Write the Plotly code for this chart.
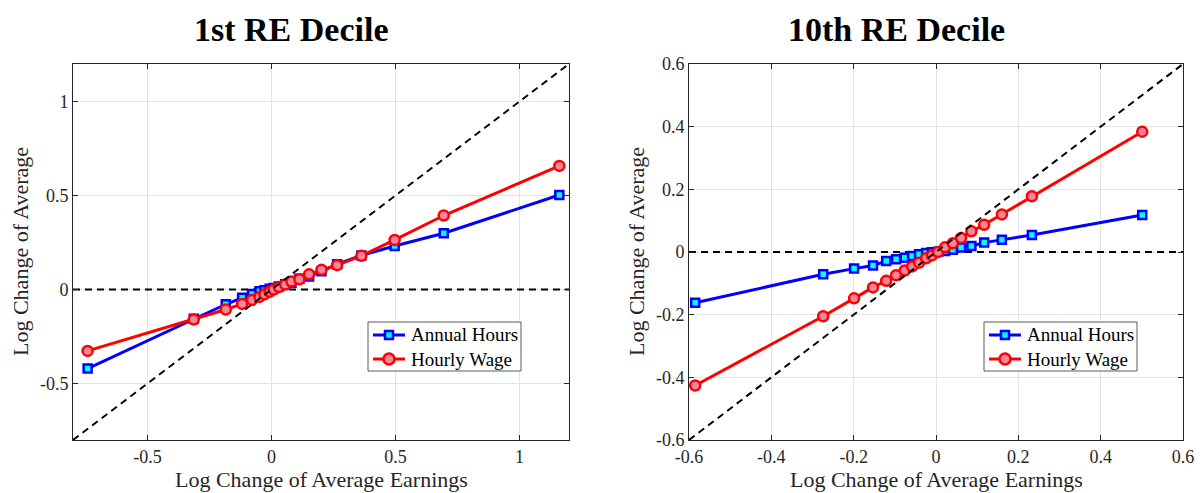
import plotly.graph_objects as go

# ---------------- data ----------------
left_earn = [-0.741, -0.313, -0.184, -0.118, -0.078, -0.048, -0.028, -0.007, 0.009, 0.030,
             0.056, 0.081, 0.113, 0.152, 0.202, 0.265, 0.363, 0.497, 0.695, 1.161]
left_hours = [-0.420, -0.155, -0.078, -0.044, -0.023, -0.009, -0.003, 0.004, 0.009, 0.016,
              0.028, 0.037, 0.058, 0.070, 0.097, 0.135, 0.182, 0.232, 0.300, 0.503]
left_wage = [-0.326, -0.159, -0.106, -0.076, -0.055, -0.039, -0.025, -0.012, 0.000, 0.014,
             0.027, 0.043, 0.055, 0.081, 0.105, 0.130, 0.180, 0.264, 0.394, 0.658]

right_earn = [-0.585, -0.274, -0.199, -0.153, -0.121, -0.097, -0.076, -0.058, -0.041, -0.024,
              -0.010, 0.005, 0.022, 0.041, 0.061, 0.086, 0.117, 0.160, 0.233, 0.501]
right_hours = [-0.162, -0.071, -0.053, -0.043, -0.029, -0.023, -0.018, -0.013, -0.007, -0.003,
               -0.001, 0.001, 0.003, 0.007, 0.014, 0.019, 0.030, 0.039, 0.054, 0.118]
right_wage = [-0.426, -0.205, -0.148, -0.113, -0.092, -0.074, -0.059, -0.046, -0.034, -0.020,
              -0.011, 0.000, 0.015, 0.028, 0.045, 0.066, 0.087, 0.120, 0.178, 0.384]

left_range = [-0.8, 1.2]
right_range = [-0.6, 0.6]
left_ticks = [-0.5, 0, 0.5, 1]
right_ticks = [-0.6, -0.4, -0.2, 0, 0.2, 0.4, 0.6]
left_ticktext = ["-0.5", "0", "0.5", "1"]
right_ticktext = ["-0.6", "-0.4", "-0.2", "0", "0.2", "0.4", "0.6"]

titles = ["1st RE Decile", "10th RE Decile"]
xlabel = "Log Change of Average Earnings"
ylabel = "Log Change of Average"
series_names = ["Annual Hours", "Hourly Wage"]

# ---------------- styling ----------------
FONT = "Liberation Serif"
BLUE = "#0000FF"
RED = "#FF0000"
CYAN = "#00FFFF"
PINK = "#F4879E"
AXC = "#262626"
W, H = 1202, 493

fig = go.Figure()

panels = [
    (left_earn, left_hours, left_wage, left_range, "x", "y"),
    (right_earn, right_hours, right_wage, right_range, "x2", "y2"),
]

for earn, hours, wage, rng, xa, ya in panels:
    fig.add_trace(go.Scatter(x=rng, y=[0, 0], mode="lines", xaxis=xa, yaxis=ya,
                             line=dict(color="black", width=2, dash="7px,5px"),
                             showlegend=False, hoverinfo="skip"))
    fig.add_trace(go.Scatter(x=earn, y=hours, mode="lines+markers", name=series_names[0],
                             xaxis=xa, yaxis=ya, showlegend=False,
                             line=dict(color=BLUE, width=3),
                             marker=dict(symbol="square", size=8, color=CYAN,
                                         line=dict(color=BLUE, width=2.5))))
    fig.add_trace(go.Scatter(x=earn, y=wage, mode="lines+markers", name=series_names[1],
                             xaxis=xa, yaxis=ya, showlegend=False,
                             line=dict(color=RED, width=3),
                             marker=dict(symbol="circle", size=10, color=PINK,
                                         line=dict(color=RED, width=2.5))))
    fig.add_trace(go.Scatter(x=rng, y=rng, mode="lines", xaxis=xa, yaxis=ya,
                             line=dict(color="black", width=2, dash="7px,5px"),
                             showlegend=False, hoverinfo="skip"))

ydom = [(H - 440) / H, (H - 64) / H]
xdom1 = [73 / W, 569 / W]
xdom2 = [689 / W, 1183 / W]


def axis(dom, rng, ticks, ticktext, anchor):
    return dict(domain=dom, range=rng, tickvals=ticks, ticktext=ticktext, anchor=anchor,
                showgrid=True, gridcolor="#E3E3E3", gridwidth=1, zeroline=False,
                showline=True, linecolor=AXC, linewidth=1, mirror="ticks",
                ticks="inside", ticklen=5, tickcolor=AXC,
                tickfont=dict(family=FONT, size=18, color=AXC), automargin=False)


fig.update_layout(
    width=W, height=H,
    margin=dict(l=0, r=0, t=0, b=0, pad=0),
    paper_bgcolor="white", plot_bgcolor="white",
    xaxis=axis(xdom1, left_range, left_ticks, left_ticktext, "y"),
    yaxis=axis(ydom, left_range, left_ticks, left_ticktext, "x"),
    xaxis2=axis(xdom2, right_range, right_ticks, right_ticktext, "y2"),
    yaxis2=axis(ydom, right_range, right_ticks, right_ticktext, "x2"),
    showlegend=False,
)


def px(x):
    return x / W


def py(y):
    return (H - y) / H


shapes = []
annots = []

# legends (drawn as boxes with line/marker samples and text)
for lx in [368, 984]:
    top, bottom = 322, 371
    shapes.append(dict(type="rect", xref="paper", yref="paper",
                       x0=px(lx), x1=px(lx + 153), y0=py(bottom), y1=py(top),
                       line=dict(color="#5A5A5A", width=1), fillcolor="white", layer="above"))
    rows = [(335, BLUE, CYAN, "square", series_names[0]),
            (359, RED, PINK, "circle", series_names[1])]
    for ry, lc, fc, sym, name in rows:
        shapes.append(dict(type="line", xref="paper", yref="paper",
                           x0=px(lx + 5), x1=px(lx + 37), y0=py(ry), y1=py(ry),
                           line=dict(color=lc, width=3), layer="above"))
        cx = lx + 21
        if sym == "square":
            shapes.append(dict(type="rect", xref="paper", yref="paper",
                               x0=px(cx - 4), x1=px(cx + 4), y0=py(ry + 4), y1=py(ry - 4),
                               line=dict(color=lc, width=2.5), fillcolor=fc, layer="above"))
        else:
            shapes.append(dict(type="circle", xref="paper", yref="paper",
                               x0=px(cx - 5.5), x1=px(cx + 5.5), y0=py(ry + 5.5), y1=py(ry - 5.5),
                               line=dict(color=lc, width=2.5), fillcolor=fc, layer="above"))
        annots.append(dict(x=px(lx + 41), y=py(ry), xref="paper", yref="paper", text=name,
                           showarrow=False, xanchor="left", yanchor="middle",
                           font=dict(family=FONT, size=19, color="black")))

for cx, t in [(291, titles[0]), (896, titles[1])]:
    annots.append(dict(x=px(cx), y=py(29), xref="paper", yref="paper", text="<b>" + t + "</b>",
                       showarrow=False, xanchor="center", yanchor="middle",
                       font=dict(family=FONT, size=34, color="black")))
for cx in [321, 936]:
    annots.append(dict(x=px(cx), y=py(479), xref="paper", yref="paper", text=xlabel,
                       showarrow=False, xanchor="center", yanchor="middle",
                       font=dict(family=FONT, size=22, color=AXC)))
for cx in [21, 637]:
    annots.append(dict(x=px(cx), y=py(252), xref="paper", yref="paper", text=ylabel,
                       showarrow=False, xanchor="center", yanchor="middle", textangle=-90,
                       font=dict(family=FONT, size=22, color=AXC)))

fig.update_layout(shapes=shapes, annotations=annots)

fig.write_html("out.html")
